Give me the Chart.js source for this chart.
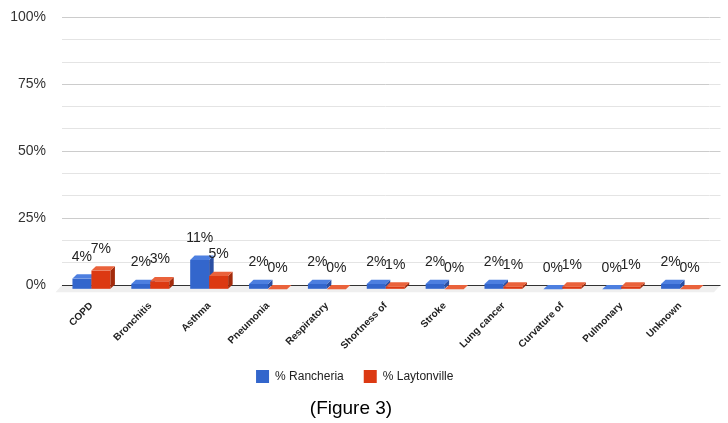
<!DOCTYPE html>
<html>
<head>
<meta charset="utf-8">
<script src="https://cdn.jsdelivr.net/npm/chart.js@4.4.0/dist/chart.umd.min.js"></script>
<style>
  body { margin: 0; background: #fff; }
  #wrap { position: relative; width: 728px; height: 423px; }
  #caption {
    position: absolute; left: 0; top: 397px; width: 702px;
    text-align: center; color: #000;
    font: 19px "Liberation Sans", Arial, sans-serif;
  }
</style>
</head>
<body>
<div id="wrap">
  <canvas id="chart" width="728" height="423"></canvas>
  <div id="caption">(Figure 3)</div>
</div>
<script>
const categories = ['COPD', 'Bronchitis', 'Asthma', 'Pneumonia', 'Respiratory', 'Shortness of',
  'Stroke', 'Lung cancer', 'Curvature of', 'Pulmonary', 'Unknown'];
const rancheria = [4, 2, 11, 2, 2, 2, 2, 2, 0, 0, 2];
const laytonville = [7, 3, 5, 0, 0, 1, 0, 1, 1, 1, 0];
const seriesNames = ['% Rancheria', '% Laytonville'];
const majorTicks = [0, 25, 50, 75, 100];
const minorPerMajor = 6;

const FONT = '"Liberation Sans", Arial, sans-serif';
const DX = 4.5, DY = 4.3;

// colours for the front / top / side of each series
const faces = [
  { front: '#3366cc', top: '#4d7fe0', side: '#2a4fa3' },
  { front: '#dc3912', top: '#ea623b', side: '#a32b0c' }
];

function gridColor(i) {
  return i === 0 ? '#333' : (i % minorPerMajor === 0 ? '#cccccc' : '#e4e4e4');
}

// fake 3D: floor, front faces pushed forward, top and side faces, value labels
const bar3d = {
  id: 'bar3d',
  beforeDatasetsDraw(chart) {
    const { ctx, chartArea: a, scales: { y } } = chart;
    const y0 = y.getPixelForValue(0);
    ctx.save();
    ctx.fillStyle = '#efefef';
    ctx.beginPath();
    ctx.moveTo(a.left, y0);
    ctx.lineTo(a.right + 11, y0);
    ctx.lineTo(a.right + 11 - DX - 2, y0 + DY + 3);
    ctx.lineTo(a.left - DX - 2, y0 + DY + 3);
    ctx.closePath();
    ctx.fill();
    // gridlines run a little further on the back wall
    y.ticks.forEach((t, i) => {
      const py = Math.round(y.getPixelForValue(t.value) - 0.5) + 0.5;
      ctx.strokeStyle = gridColor(i);
      ctx.lineWidth = 1;
      ctx.beginPath();
      ctx.moveTo(i === 0 ? a.left : a.right, py);
      ctx.lineTo(a.right + 11, py);
      ctx.stroke();
    });
    ctx.restore();
  },
  // the library draws nothing itself, the faces are drawn below in category order
  beforeDatasetDraw() { return false; },
  afterDatasetsDraw(chart) {
    const ctx = chart.ctx;
    const metas = chart.data.datasets.map((_, di) => chart.getDatasetMeta(di));
    ctx.save();
    ctx.translate(0, DY);
    for (let i = 0; i < categories.length; i++) {
      metas.forEach((meta, di) => {
        const c = faces[di];
        const { x, y, base, width } = meta.data[i].getProps(['x', 'y', 'base', 'width'], true);
        const l = x - width / 2, r = x + width / 2;
        if (base - y > 0.5) {
          ctx.fillStyle = c.front;
          ctx.fillRect(l, y, width, base - y);
          ctx.fillStyle = c.side;
          ctx.beginPath();
          ctx.moveTo(r, y); ctx.lineTo(r + DX, y - DY); ctx.lineTo(r + DX, base - DY); ctx.lineTo(r, base);
          ctx.closePath();
          ctx.fill();
        }
        ctx.fillStyle = c.top;
        ctx.beginPath();
        ctx.moveTo(l, y); ctx.lineTo(r, y); ctx.lineTo(r + DX, y - DY); ctx.lineTo(l + DX, y - DY);
        ctx.closePath();
        ctx.fill();
      });
    }
    ctx.restore();

    ctx.save();
    ctx.font = '14px ' + FONT;
    ctx.fillStyle = '#222';
    ctx.textAlign = 'center';
    ctx.textBaseline = 'alphabetic';
    chart.data.datasets.forEach((ds, di) => {
      metas[di].data.forEach((bar, i) => {
        ctx.fillText(ds.data[i] + '%', bar.x, bar.y - 13.5);
      });
    });
    ctx.restore();
  }
};

new Chart(document.getElementById('chart'), {
  type: 'bar',
  data: {
    labels: categories,
    datasets: [
      { label: seriesNames[0], data: rancheria, backgroundColor: faces[0].front },
      { label: seriesNames[1], data: laytonville, backgroundColor: faces[1].front }
    ]
  },
  options: {
    responsive: false,
    animation: false,
    layout: { padding: { top: 17.5, right: 18.5, bottom: 30, left: 0 } },
    datasets: { bar: { categoryPercentage: 0.645, barPercentage: 1 } },
    scales: {
      x: {
        grid: { display: false },
        border: { display: false },
        ticks: {
          autoSkip: false, minRotation: 45, maxRotation: 45, padding: 7,
          color: '#222', font: { family: FONT, size: 10, weight: 'bold' }
        },
        afterFit: s => { s.height = 65; }
      },
      y: {
        min: 0, max: 100,
        afterBuildTicks: s => {
          const n = (majorTicks.length - 1) * minorPerMajor;
          s.ticks = Array.from({ length: n + 1 }, (_, i) => ({ value: i * 100 / n }));
        },
        afterFit: s => { s.width = 62; s.paddingTop = 0; s.paddingBottom = 0; },
        grid: { drawTicks: false, color: c => gridColor(c.index) },
        border: { display: false },
        ticks: {
          padding: 16, color: '#333', font: { family: FONT, size: 14 },
          callback: (v, i) => i % minorPerMajor === 0 ? majorTicks[i / minorPerMajor] + '%' : ''
        }
      }
    },
    plugins: {
      legend: {
        position: 'bottom',
        labels: {
          boxWidth: 13, boxHeight: 13, padding: 20, color: '#222',
          font: { family: FONT, size: 12 }
        }
      },
      tooltip: { enabled: false }
    }
  },
  plugins: [bar3d]
});
</script>
</body>
</html>
